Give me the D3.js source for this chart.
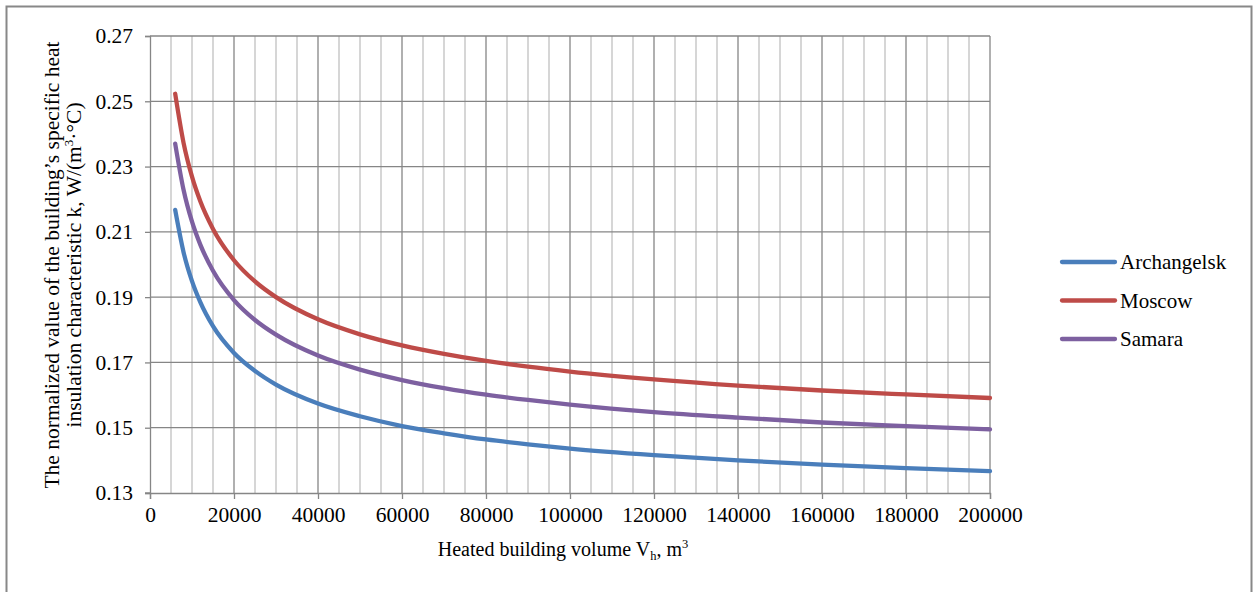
<!DOCTYPE html>
<meta charset="utf-8">
<body style="margin:0;background:#fff;">
<script src="https://d3js.org/d3.v7.min.js"></script>
<svg id="chart" width="1257" height="592"></svg>
<script>
// heated building volume, m3
var volumes = [6000, 8000, 10000, 12000, 15000, 20000, 25000, 30000, 40000, 50000,
               60000, 70000, 80000, 90000, 100000, 120000, 140000, 160000, 180000, 200000];

// normalized specific heat insulation characteristic, W/(m3*C)
var archangelsk = [0.2167, 0.2037, 0.1949, 0.1884, 0.1811, 0.1729, 0.1674, 0.1632, 0.1574, 0.1535,
                   0.1505, 0.1483, 0.1464, 0.1449, 0.1436, 0.1416, 0.1400, 0.1387, 0.1376, 0.1367];
var moscow      = [0.2523, 0.2372, 0.2269, 0.2193, 0.2109, 0.2013, 0.1948, 0.1900, 0.1832, 0.1786,
                   0.1752, 0.1726, 0.1705, 0.1687, 0.1672, 0.1648, 0.1629, 0.1614, 0.1602, 0.1591];
var samara      = [0.2370, 0.2228, 0.2131, 0.2060, 0.1981, 0.1891, 0.1830, 0.1785, 0.1721, 0.1678,
                   0.1646, 0.1621, 0.1601, 0.1585, 0.1571, 0.1548, 0.1531, 0.1516, 0.1505, 0.1495];

var seriesNames = ["Archangelsk", "Moscow", "Samara"];
var xTicks = [0, 20000, 40000, 60000, 80000, 100000, 120000, 140000, 160000, 180000, 200000];
var yTicks = [0.13, 0.15, 0.17, 0.19, 0.21, 0.23, 0.25, 0.27];

var colors = ["#4a7ebb", "#be4b48", "#7d60a0"];
var allSeries = [archangelsk, moscow, samara];

var svg = d3.select("#chart");
var font = "Liberation Serif, Times New Roman, DejaVu Serif, serif";

// outer frame
svg.append("path")
   .attr("d", "M6.5,592 V6.5 H1251.5 V592")
   .attr("fill", "none")
   .attr("stroke", "#888")
   .attr("stroke-width", 2);

var x = d3.scaleLinear().domain([0, 200000]).range([150, 990]);
var y = d3.scaleLinear().domain([0.13, 0.27]).range([493, 36]);

// minor vertical grid every 5000
var minor = d3.range(5000, 200001, 5000).filter(function(v){ return v % 20000 != 0; });
svg.append("g").selectAll("line").data(minor).enter().append("line")
   .attr("x1", d => x(d)).attr("x2", d => x(d))
   .attr("y1", y(0.27)).attr("y2", y(0.13))
   .attr("stroke", "#c0c0c0").attr("stroke-width", 1.3);

// major grid
svg.append("g").selectAll("line").data(xTicks.slice(1)).enter().append("line")
   .attr("x1", d => x(d)).attr("x2", d => x(d))
   .attr("y1", y(0.27)).attr("y2", y(0.13))
   .attr("stroke", "#868686").attr("stroke-width", 1.3);
svg.append("g").selectAll("line").data(yTicks.slice(1)).enter().append("line")
   .attr("x1", x(0)).attr("x2", x(200000))
   .attr("y1", d => y(d)).attr("y2", d => y(d))
   .attr("stroke", "#868686").attr("stroke-width", 1.3);

// axes
var xAxis = svg.append("g").attr("transform", "translate(0," + y(0.13) + ")")
   .call(d3.axisBottom(x).tickValues(xTicks).tickFormat(d3.format("d")).tickSizeOuter(0).tickSize(6).tickPadding(8));
var yAxis = svg.append("g").attr("transform", "translate(" + x(0) + ",0)")
   .call(d3.axisLeft(y).tickValues(yTicks).tickFormat(d3.format(".2f")).tickSizeOuter(0).tickSize(5).tickPadding(12));

[xAxis, yAxis].forEach(function(a){
  a.attr("font-family", null).attr("font-size", null);
  a.select(".domain").attr("stroke", "#868686").attr("stroke-width", 1.3);
  a.selectAll(".tick line").attr("stroke", "#868686").attr("stroke-width", 1.3);
  a.selectAll("text").style("font-family", font).style("font-size", "21.5px").attr("fill", "#000");
});
// x axis line extends slightly left like the reference
svg.append("line").attr("x1", x(0) - 5).attr("x2", x(0)).attr("y1", y(0.13)).attr("y2", y(0.13))
   .attr("stroke", "#868686").attr("stroke-width", 1.3);

// curves
var line = d3.line()
   .x((d, i) => x(volumes[i]))
   .y(d => y(d))
   .curve(d3.curveMonotoneX);

svg.append("g").selectAll("path").data(allSeries).enter().append("path")
   .attr("d", d => line(d))
   .attr("fill", "none")
   .attr("stroke", (d, i) => colors[i])
   .attr("stroke-width", 4.3)
   .attr("stroke-linecap", "round")
   .attr("stroke-linejoin", "round");

// axis titles
var xt = svg.append("text")
   .attr("x", 563).attr("y", 556)
   .attr("text-anchor", "middle")
   .style("font-family", font).style("font-size", "20px");
xt.append("tspan").text("Heated building volume V");
xt.append("tspan").style("font-size", "12.5px").attr("dy", 4).text("h");
xt.append("tspan").attr("dy", -4).text(", m");
xt.append("tspan").style("font-size", "12.5px").attr("dy", -8).text("3");

var yt = svg.append("text")
   .attr("transform", "translate(0,265) rotate(-90)")
   .attr("text-anchor", "middle")
   .style("font-family", font).style("font-size", "21.5px");
yt.append("tspan").attr("x", 0).attr("y", 59).text("The normalized value of the building\u2019s specific heat");
var l2 = yt.append("tspan").attr("x", 0).attr("y", 81);
l2.append("tspan").text("insulation characteristic k, W/(m");
l2.append("tspan").style("font-size", "13px").attr("dy", -8).text("3");
l2.append("tspan").attr("dy", 8).text("\u00b7\u00b0C)");

// legend
var legend = svg.append("g").selectAll("g").data(seriesNames).enter().append("g")
   .attr("transform", (d, i) => "translate(1062," + (262 + i * 38.5) + ")");
legend.append("line")
   .attr("x1", 0).attr("x2", 53).attr("y1", 0).attr("y2", 0)
   .attr("stroke", (d, i) => colors[i]).attr("stroke-width", 4.3).attr("stroke-linecap", "round");
legend.append("text")
   .attr("x", 58).attr("y", 7)
   .style("font-family", font).style("font-size", "21px")
   .text(d => d);
</script>
</body>
